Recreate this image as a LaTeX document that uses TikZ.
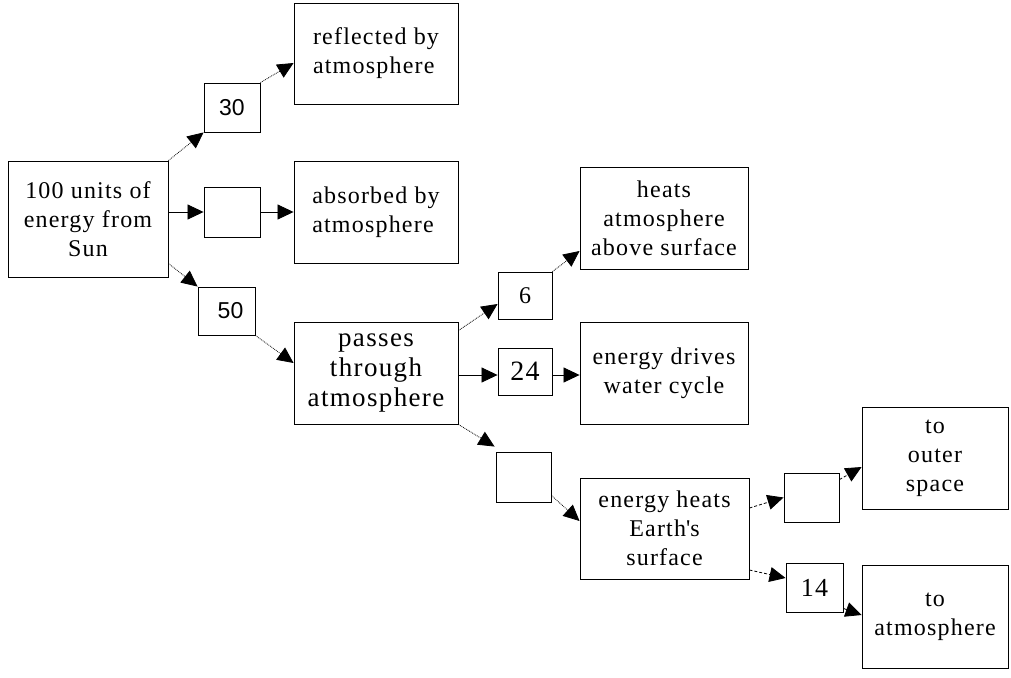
\documentclass[tikz,border=0pt]{standalone}
\usepackage{fontspec}
\setmainfont{Liberation Serif}[LetterSpace=5]
\newfontfamily\numsans{Liberation Sans}
\usetikzlibrary{arrows.meta}
\begin{document}
\begin{tikzpicture}[x=1pt,y=-1pt,
  box/.style={draw, line width=0.9pt, inner sep=0pt, align=center,
    font=\fontsize{24}{29}\selectfont},
  bigtext/.style={font=\fontsize{27}{30}\selectfont},
  arr/.style={line width=0.8pt, -{Triangle[length=16pt,width=15pt]}},
  diag/.style={arr, densely dotted},
  dsh/.style={arr, densely dashed}]
\useasboundingbox (0,0) rectangle (1011,677);

% source
\node[box, minimum width=160pt, minimum height=116pt] (src) at (88,219)
  {100 units of\\energy from\\Sun};

% first split
\node[box, minimum width=56pt, minimum height=49pt, font={\numsans\fontsize{23}{26}\selectfont}] (b30) at (232,107.5) {30};
\node[box, minimum width=56pt, minimum height=50pt] (be1) at (232,212) {};
\node[box, minimum width=57pt, minimum height=48pt, font={\numsans\fontsize{23}{26}\selectfont}] (b50) at (226.5,311) {\hspace*{8pt}50};

\node[box, align=left, minimum width=164pt, minimum height=101pt] (refl) at (376,53.5)
  {reflected by\\atmosphere};
\node[box, align=left, minimum width=164pt, minimum height=102pt] (absb) at (376,212)
  {absorbed by\\atmosphere};
\node[box, bigtext, minimum width=164pt, minimum height=102pt] (pass) at (376,373)
  {passes\\through\\atmosphere};

% second split
\node[box, minimum width=54pt, minimum height=47pt, font=\fontsize{24}{26}\selectfont] (b6) at (525,295.5) {6};
\node[box, minimum width=54pt, minimum height=47pt, font=\fontsize{28}{30}\selectfont] (b24) at (525,371.5) {24};
\node[box, minimum width=55pt, minimum height=50pt] (be2) at (523.5,477) {};

\node[box, minimum width=168pt, minimum height=102pt] (heat) at (664,218)
  {heats\\atmosphere\\above surface};
\node[box, minimum width=168pt, minimum height=102pt] (water) at (664,373)
  {energy drives\\water cycle};
\node[box, minimum width=169pt, minimum height=101pt] (surf) at (664.5,528.5)
  {energy heats\\Earth\textquotesingle s\\surface};

% third split
\node[box, minimum width=55pt, minimum height=49pt] (be3) at (811.5,497.5) {};
\node[box, minimum width=57pt, minimum height=49pt, font=\fontsize{26}{28}\selectfont] (b14) at (814.5,587.5) {14};
\node[box, minimum width=146pt, minimum height=102pt] (outer) at (935,458)
  {to\\outer\\space};
\node[box, minimum width=146pt, minimum height=103pt] (toatm) at (935,616.5)
  {to\\atmosphere};

% connectors
\draw[diag] (src.north east) -- (b30.south west);
\draw[diag] (b30.north east) -- ([yshift=-9.5pt]refl.west);
\draw[arr] (src.east |- be1.west) -- (be1.west);
\draw[arr] (be1.east) -- (absb.west |- be1.east);
\draw[diag] ([yshift=14pt]src.south east) -- (b50.north west);
\draw[diag] (b50.south east) -- ([yshift=10pt]pass.west);

\draw[diag] ([yshift=-9pt]pass.north east) -- ([yshift=-8.5pt]b6.west);
\draw[diag] (b6.north east) -- ([yshift=-33pt]heat.west);
\draw[arr] ([yshift=-2pt]pass.east) -- ([yshift=-3.5pt]b24.west);
\draw[arr] ([yshift=-3.5pt]b24.east) -- ([yshift=-2pt]water.west);
\draw[diag] (pass.south east) -- ([shift={(-1pt,5pt)}]be2.north west);
\draw[diag] ([yshift=7pt]be2.south east) -- ([yshift=7.5pt]surf.west);

\draw[dsh] ([yshift=20.5pt]surf.east) -- (be3.west);
\draw[dsh] ([yshift=-7pt]be3.north east) -- ([yshift=-9pt]outer.west);
\draw[dsh] ([yshift=-41.5pt]surf.east) -- ([yshift=9.5pt]b14.west);
\draw[arr] ([yshift=4pt]b14.south east) -- ([yshift=1.5pt]toatm.west);
\end{tikzpicture}
\end{document}
